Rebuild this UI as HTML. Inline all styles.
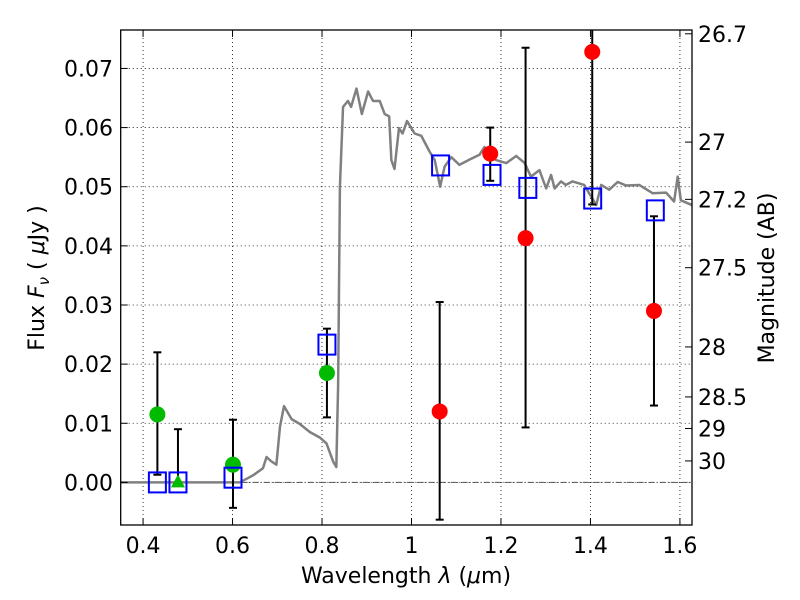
<!DOCTYPE html>
<html><head><meta charset="utf-8"><style>
html,body{margin:0;padding:0;background:#fff;}
svg{display:block;font-family:"DejaVu Sans","Liberation Sans",sans-serif;}
</style></head><body>
<svg id="chart" width="800" height="600" viewBox="0 0 800 600">
<rect x="0" y="0" width="800" height="600" fill="#fff"/>
<g id="grid"></g>
<g id="marks"></g>
<rect x="120.7" y="30" width="571.3" height="495" fill="none" stroke="#000" stroke-width="1.3"/>
<g id="axes"></g>
<text x="406" y="583" font-size="22" text-anchor="middle">Wavelength  <tspan font-style="italic">λ</tspan> (<tspan font-style="italic">μ</tspan>m)</text>
<text transform="translate(44,278) rotate(-90)" font-size="22" text-anchor="middle">Flux  <tspan font-style="italic">F</tspan><tspan font-style="italic" font-size="15" dy="5">ν</tspan><tspan dy="-5">  ( </tspan><tspan font-style="italic">μ</tspan>Jy )</text>
<text transform="translate(774,278) rotate(-90)" font-size="22" text-anchor="middle">Magnitude (AB)</text>
</svg>
<script>
const xTicks=[0.4,0.6,0.8,1.0,1.2,1.4,1.6];
const xTickLabels=["0.4","0.6","0.8","1","1.2","1.4","1.6"];
const yTicks=[0,0.01,0.02,0.03,0.04,0.05,0.06,0.07];
const yTickLabels=["0.00","0.01","0.02","0.03","0.04","0.05","0.06","0.07"];
const magTicks=[26.7,27,27.2,27.5,28,28.5,29,30];
const magLabels=["26.7","27","27.2","27.5","28","28.5","29","30"];
const specX=[0.35,0.616,0.646,0.668,0.676,0.686,0.698,0.706,0.715,0.732,0.75,0.773,0.795,0.81,0.825,0.832,0.836,0.84,0.847,0.858,0.865,0.877,0.889,0.903,0.914,0.929,0.94,0.95,0.955,0.962,0.972,0.98,0.99,1.007,1.022,1.04,1.052,1.064,1.074,1.089,1.107,1.13,1.152,1.163,1.189,1.212,1.234,1.253,1.267,1.286,1.301,1.312,1.32,1.334,1.345,1.36,1.386,1.413,1.424,1.442,1.461,1.48,1.509,1.539,1.569,1.587,1.595,1.602,1.627];
const specY=[0,0,0.0012,0.0024,0.0043,0.0036,0.003,0.0094,0.0129,0.0107,0.0099,0.0085,0.0076,0.0066,0.0035,0.0026,0.0165,0.05,0.0635,0.0645,0.0635,0.0666,0.0623,0.0661,0.0645,0.0645,0.0623,0.0619,0.0545,0.053,0.0599,0.059,0.0611,0.059,0.0586,0.056,0.0545,0.05,0.0534,0.055,0.0537,0.0546,0.0554,0.0567,0.0545,0.054,0.0552,0.054,0.0517,0.0528,0.0497,0.052,0.0497,0.0509,0.0503,0.0509,0.0503,0.0469,0.0503,0.0495,0.0508,0.0502,0.0503,0.0489,0.049,0.0475,0.0517,0.0477,0.0469];
const greenX=[0.432,0.601,0.811];
const greenY=[0.0115,0.003,0.0185];
const greenLo=[0.0013,-0.0043,0.011];
const greenHi=[0.022,0.0106,0.026];
const triX=[0.478];
const triY=[0.0];
const triLo=[0.0];
const triHi=[0.009];
const redX=[1.063,1.176,1.255,1.404,1.542];
const redY=[0.012,0.0556,0.0413,0.0728,0.029];
const redLo=[-0.0063,0.051,0.0093,0.047,0.013];
const redHi=[0.0305,0.060,0.0735,0.09,0.045];
const sqX=[0.432,0.478,0.601,0.811,1.065,1.18,1.26,1.405,1.545];
const sqY=[0,0,0.0008,0.0233,0.0536,0.052,0.0498,0.048,0.046];

const L=120.7,R=692,T=30,B=525,x0=0.35,x1=1.627,y0=-0.0072,y1=0.0765;
const sx=v=>L+(v-x0)/(x1-x0)*(R-L);
const sy=v=>B-(v-y0)/(y1-y0)*(B-T);
const NS="http://www.w3.org/2000/svg";
function mk(tag,parent,attrs){const e=document.createElementNS(NS,tag);for(const k in attrs)e.setAttribute(k,attrs[k]);parent.appendChild(e);return e;}
const grid=document.getElementById('grid'),marks=document.getElementById('marks'),axes=document.getElementById('axes');
xTicks.forEach((t,i)=>{const x=sx(t);
 let g=mk('line',grid,{x1:x,x2:x,y1:T,y2:B,stroke:'#000','stroke-width':0.8,'stroke-dasharray':'1,3'});
 
 mk('line',axes,{x1:x,x2:x,y1:B,y2:B-7,stroke:'#000'});mk('line',axes,{x1:x,x2:x,y1:T,y2:T+7,stroke:'#000'});
 let tx=mk('text',axes,{x:x,y:B+28,'font-size':22,'text-anchor':'middle'});tx.textContent=xTickLabels[i];
 });
yTicks.forEach((t,i)=>{const y=sy(t);
 let g=mk('line',grid,{x1:L,x2:R,y1:y,y2:y,stroke:'#000','stroke-width':0.8,'stroke-dasharray':'1,3'});
 
 mk('line',axes,{x1:L,x2:L+7,y1:y,y2:y,stroke:'#000'});
 let tx=mk('text',axes,{x:113,y:y+8,'font-size':22,'text-anchor':'end'});tx.textContent=yTickLabels[i];
 });
magTicks.forEach((m,i)=>{const f=Math.pow(10,-(m-23.9)/2.5);const y=sy(f);
 mk('line',axes,{x1:R,x2:R-7,y1:y,y2:y,stroke:'#000'});
 let tx=mk('text',axes,{x:698,y:y+8,'font-size':22});tx.textContent=magLabels[i];
 });
let zl=mk('line',marks,{x1:L,x2:R,y1:sy(0),y2:sy(0),stroke:'#555','stroke-width':1,'stroke-dasharray':'6,2,1,2'});

let sp=mk('polyline',marks,{points:specX.map((x,i)=>sx(x)+','+sy(specY[i])).join(' '),fill:'none',stroke:'#808080','stroke-width':2.5,'stroke-linejoin':'round'});

function ebar(x,lo,hi){const X=sx(x),a=Math.max(sy(hi),T),b=sy(lo);
 let e=mk('g',marks,{});
 mk('line',e,{x1:X,x2:X,y1:a,y2:b,stroke:'#000','stroke-width':2});
 if(sy(hi)>=T)mk('line',e,{x1:X-4,x2:X+4,y1:a,y2:a,stroke:'#000','stroke-width':2});
 mk('line',e,{x1:X-4,x2:X+4,y1:b,y2:b,stroke:'#000','stroke-width':2});}
greenX.forEach((x,i)=>ebar(x,greenLo[i],greenHi[i]));
triX.forEach((x,i)=>ebar(x,triLo[i],triHi[i]));
redX.forEach((x,i)=>ebar(x,redLo[i],redHi[i]));
greenX.forEach((x,i)=>{let c=mk('circle',marks,{cx:sx(x),cy:sy(greenY[i]),r:8,fill:'#00bb00'});
 });
triX.forEach((x,i)=>{const X=sx(x),Y=sy(triY[i]);let p=mk('polygon',marks,{points:`${X},${Y-8} ${X-7},${Y+5} ${X+7},${Y+5}`,fill:'#00bb00'});
 });
redX.forEach((x,i)=>{let c=mk('circle',marks,{cx:sx(x),cy:sy(redY[i]),r:8,fill:'#ff0000'});
 });
sqX.forEach((x,i)=>{let s=mk('rect',marks,{x:sx(x)-8.5,y:sy(sqY[i])-10,width:17,height:20,fill:'none',stroke:'#0000ff','stroke-width':2});
 });
</script>
</body></html>
